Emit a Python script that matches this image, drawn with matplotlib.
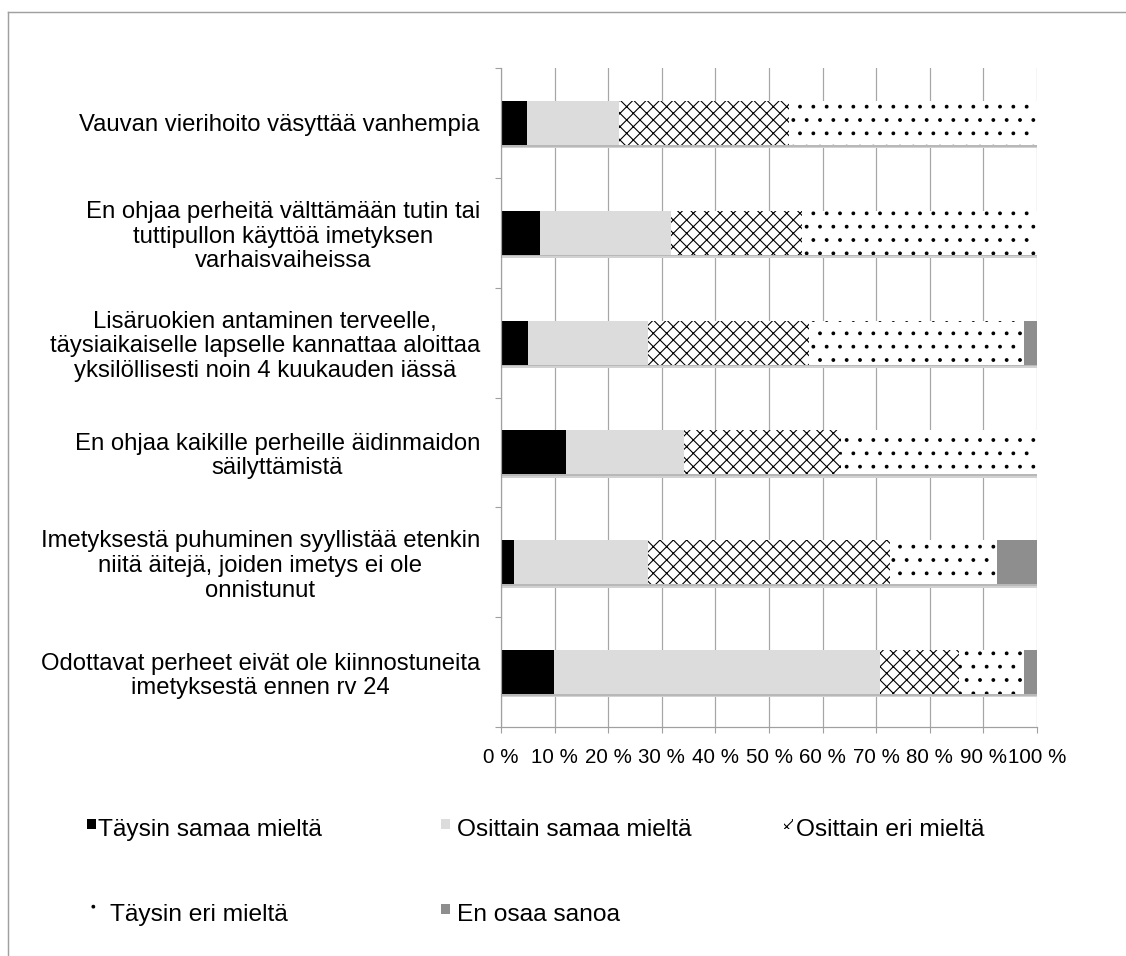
import matplotlib.pyplot as plt
from matplotlib.patches import Rectangle
from matplotlib.lines import Line2D
import numpy as np

# Data (percent of answers)
statements = [
    'Vauvan vierihoito väsyttää vanhempia',
    'En ohjaa perheitä välttämään tutin tai\ntuttipullon käyttöä imetyksen\nvarhaisvaiheissa',
    'Lisäruokien antaminen terveelle,\ntäysiaikaiselle lapselle kannattaa aloittaa\nyksilöllisesti noin 4 kuukauden iässä',
    'En ohjaa kaikille perheille äidinmaidon\nsäilyttämistä',
    'Imetyksestä puhuminen syyllistää etenkin\nniitä äitejä, joiden imetys ei ole\nonnistunut',
    'Odottavat perheet eivät ole kiinnostuneita\nimetyksestä ennen rv 24',
]
answer_labels = ['Täysin samaa mieltä', 'Osittain samaa mieltä', 'Osittain eri mieltä',
                 'Täysin eri mieltä', 'En osaa sanoa']
taysin_samaa = [4.9, 7.3, 5.0, 12.2, 2.5, 9.8]
osittain_samaa = [17.1, 24.4, 22.5, 22.0, 25.0, 61.0]
osittain_eri = [31.7, 24.4, 30.0, 29.3, 45.0, 14.6]
taysin_eri = [46.3, 43.9, 40.0, 36.6, 20.0, 12.2]
en_osaa = [0.0, 0.0, 2.5, 0.0, 7.5, 2.4]
x_ticks = list(range(0, 101, 10))

series = [taysin_samaa, osittain_samaa, osittain_eri, taysin_eri, en_osaa]
colors = ['#000000', '#dcdcdc', 'white', 'white', '#8e8e8e']
hatches = [None, None, 'xx', '.', None]

W, H, DPI = 1126, 956, 80
plt.rcParams['font.family'] = ['Liberation Sans', 'DejaVu Sans']
plt.rcParams['hatch.linewidth'] = 1.0

fig = plt.figure(figsize=(W / DPI, H / DPI), dpi=DPI)
ax = fig.add_axes([501 / W, 1 - 727 / H, 536 / W, 659 / H])

y = np.arange(len(statements))
bar_h = 0.4

# soft shadow under each bar
totals = np.sum(series, axis=0)
ax.barh(y + 0.03, totals, height=bar_h, color='#d2d2d2', zorder=1.5, linewidth=0)
ax.barh(y + 0.015, totals, height=bar_h, color='#b8b8b8', zorder=1.6, linewidth=0)

left = np.zeros(len(statements))
for vals, col, hat in zip(series, colors, hatches):
    ax.barh(y, vals, left=left, height=bar_h, color=col, hatch=hat,
            edgecolor='black' if hat else col, linewidth=0, zorder=2)
    left += np.array(vals)

ax.set_xlim(0, 100)
ax.set_ylim(len(statements) - 0.5, -0.5)
ax.set_xticks(x_ticks)
ax.set_xticklabels([f'{v} %' for v in x_ticks], fontsize=18.5)
ax.set_yticks(y)
ax.set_yticklabels(statements, fontsize=21.5, linespacing=1.15,
                   multialignment='center')
ax.set_yticks(np.arange(-0.5, len(statements)), minor=True)
ax.tick_params(axis='y', which='major', length=0, pad=19)
ax.tick_params(axis='y', which='minor', length=5, color='#a0a0a0', width=1)
ax.tick_params(axis='x', length=5, color='#a0a0a0', width=1, pad=14)
ax.grid(axis='x', color='#a6a6a6', linewidth=1.1, zorder=0)
ax.set_axisbelow(True)
for s in ['top', 'right']:
    ax.spines[s].set_visible(False)
for s in ['left', 'bottom']:
    ax.spines[s].set_color('#a0a0a0')
    ax.spines[s].set_linewidth(1.1)

# legend, placed like the original
legend_pos = [(87, 828), (441, 828), (784, 828), (87, 913), (441, 913)]
text_x = [98, 457, 796, 110, 457]
for (px, py), tx, lab, col, hat in zip(legend_pos, text_x, answer_labels, colors, hatches):
    fig.add_artist(Rectangle((px / W, 1 - (py + 1) / H), 9 / W, 10 / H,
                             facecolor=col, hatch=hat,
                             edgecolor='black' if hat else col, linewidth=0,
                             transform=fig.transFigure))
    fig.text(tx / W, 1 - (py + 2) / H, lab, fontsize=22, va='center', ha='left')

# chart frame
fig.add_artist(Line2D([8 / W, 8 / W], [0, 1 - 12 / H], color='#a0a0a0', lw=1.3))
fig.add_artist(Line2D([8 / W, 1], [1 - 12 / H, 1 - 12 / H], color='#a0a0a0', lw=1.3))

fig.savefig('out.png', dpi=DPI, facecolor='white')
